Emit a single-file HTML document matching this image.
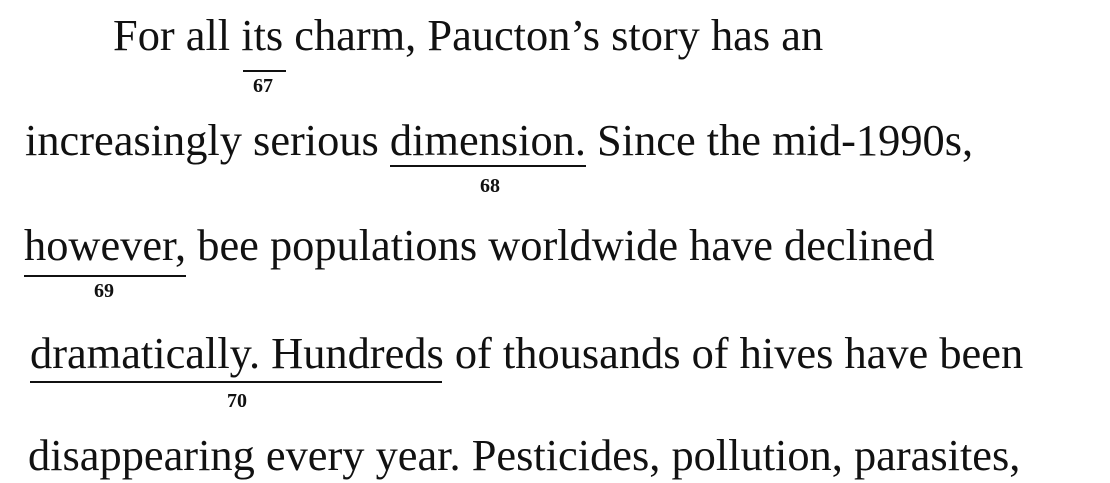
<!DOCTYPE html>
<html><head><meta charset="utf-8">
<style>
html,body{margin:0;padding:0;background:#fff;}
body{width:1110px;height:483px;position:relative;overflow:hidden;font-family:"Liberation Serif",serif;color:#111;}
.ln{position:absolute;font-size:44.4px;line-height:42px;white-space:nowrap;}
.num{position:absolute;font-size:20px;font-weight:bold;line-height:20px;transform:translateX(-50%);}
.ul{position:absolute;height:2px;background:#111;}
</style></head>
<body>
<div class="ln" style="left:113px;top:14px;">For all its charm, Paucton’s story has an</div>
<div class="ul" style="left:243px;top:70px;width:43px;"></div>
<div class="num" style="left:263px;top:76px;">67</div>

<div class="ln" style="left:25px;top:119px;">increasingly serious dimension. Since the mid-1990s,</div>
<div class="ul" style="left:390px;top:165px;width:196px;"></div>
<div class="num" style="left:490px;top:176px;">68</div>

<div class="ln" style="left:24px;top:224px;">however, bee populations worldwide have declined</div>
<div class="ul" style="left:24px;top:275px;width:162px;"></div>
<div class="num" style="left:104px;top:281px;">69</div>

<div class="ln" style="left:30px;top:332px;">dramatically. Hundreds of thousands of hives have been</div>
<div class="ul" style="left:30px;top:381px;width:412px;"></div>
<div class="num" style="left:237px;top:391px;">70</div>

<div class="ln" style="left:28px;top:434px;">disappearing every year. Pesticides, pollution, parasites,</div>
</body></html>
